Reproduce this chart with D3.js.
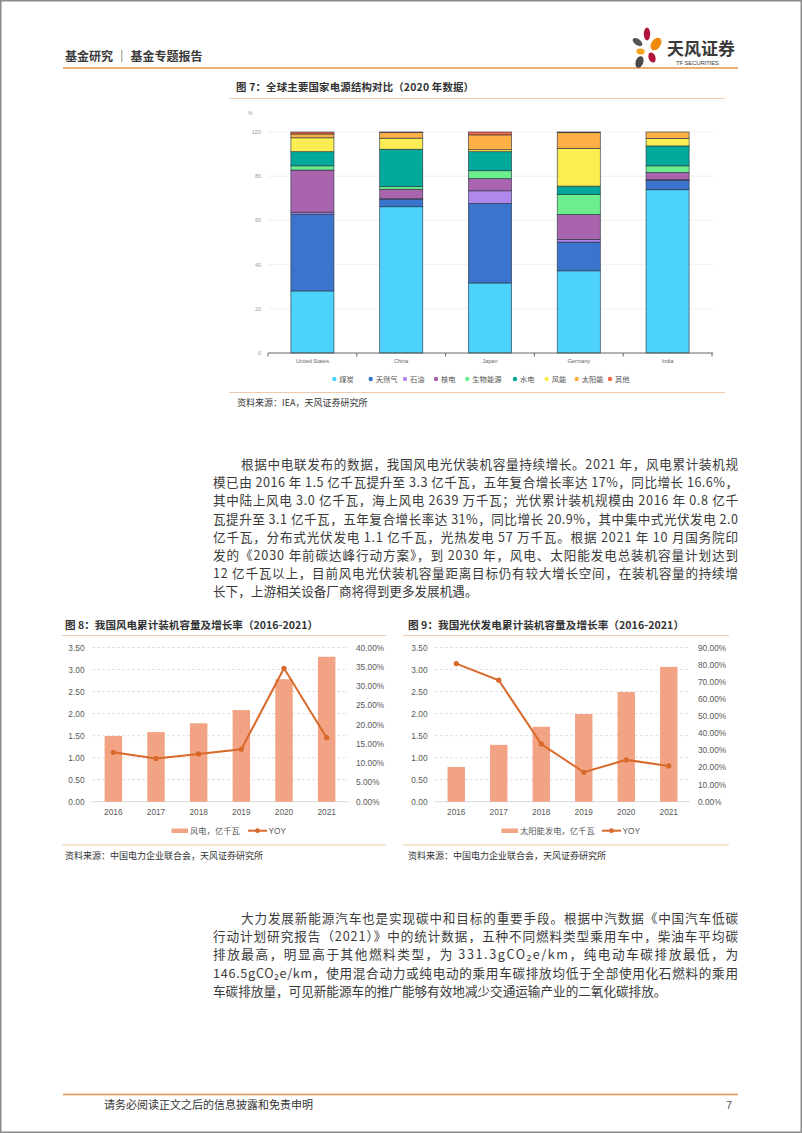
<!DOCTYPE html>
<html><head><meta charset="utf-8">
<script src="https://cdn.jsdelivr.net/npm/d3@7/dist/d3.min.js"></script>
<style>
html,body{margin:0;padding:0;background:#fff;}
svg{display:block;}
</style></head>
<body>
<svg id="page" width="802" height="1133"></svg>
<script>
// ---------- DATA ----------
const countries = ["United States","China","Japan","Germany","India"];
const sources = ["煤炭","天然气","石油","核电","生物能源","水电","风能","太阳能","其他"];
const coal    = [28.1, 66.2, 31.7, 37.2, 73.9];
const gas     = [34.7,  3.4, 36.0, 13.0,  4.2];
const oil     = [ 0.9,  0.2,  5.7,  1.2,  0.4];
const nuclear = [19.1,  4.3,  5.5, 11.3,  3.2];
const bio     = [ 1.9,  1.2,  3.6,  9.1,  3.0];
const hydro   = [ 6.4, 16.9,  8.6,  3.7,  9.0];
const wind    = [ 6.3,  5.0,  0.9, 17.1,  3.4];
const solar   = [ 1.7,  2.6,  6.7,  7.1,  2.9];
const other   = [ 0.9,  0.2,  1.3,  0.3,  0.0];
const pctTicks = [0,20,40,60,80,100];

const years = ["2016","2017","2018","2019","2020","2021"];
const windCap = [1.49,1.58,1.78,2.08,2.78,3.29];
const windYoy = [0.128,0.112,0.124,0.136,0.346,0.166];
const solarCap = [0.79,1.29,1.70,1.99,2.49,3.06];
const solarYoy = [0.806,0.709,0.337,0.172,0.244,0.209];
const capTicks = [0,0.5,1,1.5,2,2.5,3,3.5];
const windYoyTicks = [0,0.05,0.10,0.15,0.20,0.25,0.30,0.35,0.40];
const solarYoyTicks = [0,0.1,0.2,0.3,0.4,0.5,0.6,0.7,0.8,0.9];

const para1 = [
 "根据中电联发布的数据，我国风电光伏装机容量持续增长。2021 年，风电累计装机规",
 "模已由 2016 年 1.5 亿千瓦提升至 3.3 亿千瓦，五年复合增长率达 17%，同比增长 16.6%，",
 "其中陆上风电 3.0 亿千瓦，海上风电 2639 万千瓦；光伏累计装机规模由 2016 年 0.8 亿千",
 "瓦提升至 3.1 亿千瓦，五年复合增长率达 31%，同比增长 20.9%，其中集中式光伏发电 2.0",
 "亿千瓦，分布式光伏发电 1.1 亿千瓦，光热发电 57 万千瓦。根据 2021 年 10 月国务院印",
 "发的《2030 年前碳达峰行动方案》，到 2030 年，风电、太阳能发电总装机容量计划达到",
 "12 亿千瓦以上，目前风电光伏装机容量距离目标仍有较大增长空间，在装机容量的持续增",
 "长下，上游相关设备厂商将得到更多发展机遇。"
];
const para2 = [
 "大力发展新能源汽车也是实现碳中和目标的重要手段。根据中汽数据《中国汽车低碳",
 "行动计划研究报告（2021）》中的统计数据，五种不同燃料类型乘用车中，柴油车平均碳",
 "排放最高，明显高于其他燃料类型，为 331.3gCO₂e/km，纯电动车碳排放最低，为",
 "146.5gCO₂e/km，使用混合动力或纯电动的乘用车碳排放均低于全部使用化石燃料的乘用",
 "车碳排放量，可见新能源车的推广能够有效地减少交通运输产业的二氧化碳排放。"
];

// ---------- PAGE ----------
const CJK = "'Noto Sans CJK SC','Noto Sans',sans-serif";
const LAT = "'Liberation Sans','Noto Sans CJK SC',sans-serif";
const svg = d3.select("#page");
svg.append("rect").attr("x",0.75).attr("y",0.75).attr("width",800.5).attr("height",1131.5)
  .attr("fill","#fff").attr("stroke","#8a8a8a").attr("stroke-width",1.5);

// header
svg.append("text").attr("x",65).attr("y",61).text("基金研究 ｜ 基金专题报告")
  .attr("font-family",CJK).attr("font-size",12).attr("font-weight","bold").attr("fill","#3a3a3a");
svg.append("line").attr("x1",63).attr("x2",738).attr("y1",68).attr("y2",68)
  .attr("stroke","#e3954d").attr("stroke-width",1.6);
// logo
const logo = svg.append("g");
[[647,34,3.2,6.5,0,"#b3143c"],[656,44,4.6,7,35,"#ef8a0c"],[637.5,42,3.2,5.5,-55,"#555"],
 [640.5,51.5,4.2,3,10,"#f4a31e"],[652,57.5,3.4,5.2,-20,"#b3143c"],[639.5,62,3.8,6,20,"#4a4a4a"]]
 .forEach(p=>logo.append("ellipse").attr("cx",p[0]).attr("cy",p[1]).attr("rx",p[2]).attr("ry",p[3])
   .attr("transform",`rotate(${p[4]},${p[0]},${p[1]})`).attr("fill",p[5]));
svg.append("text").attr("x",667).attr("y",55).text("天风证券").attr("font-family",CJK)
  .attr("font-size",17).attr("font-weight","bold").attr("fill","#3a3a3a");
svg.append("text").attr("x",676).attr("y",65).text("TF SECURITIES").attr("font-family",LAT)
  .attr("font-size",6).attr("fill","#444").attr("textLength",43);

// ---------- FIG 7 ----------
svg.append("text").attr("x",236).attr("y",91).text("图 7：全球主要国家电源结构对比（2020 年数据）")
  .attr("font-family",CJK).attr("font-size",10.4).attr("font-weight","bold").attr("fill","#333")
  .attr("textLength",238).attr("lengthAdjust","spacing");
svg.append("line").attr("x1",229).attr("x2",725).attr("y1",98.5).attr("y2",98.5)
  .attr("stroke","#f0c9a8").attr("stroke-width",1);

const series = [coal,gas,oil,nuclear,bio,hydro,wind,solar,other];
const colors = ["#4dd2fb","#3b74cc","#b088ec","#a964ae","#6cee8f","#00a99a","#fcee52","#fdb045","#f2664a"];
const rows = countries.map((c,i)=>{const o={country:c}; sources.forEach((s,j)=>o[s]=series[j][i]); return o;});
const stack = d3.stack().keys(sources)(rows);
const x7 = d3.scaleBand().domain(countries).range([268,712]).paddingInner(0.515).paddingOuter(0.2575);
const y7 = d3.scaleLinear().domain([0,100]).range([353,132]);
const g7 = svg.append("g");
g7.selectAll(".grid").data(pctTicks.filter(d=>d>0)).join("line")
  .attr("x1",268).attr("x2",713).attr("y1",d=>y7(d)).attr("y2",d=>y7(d))
  .attr("stroke","#ececec").attr("stroke-width",0.8);
g7.selectAll(".yl").data(pctTicks).join("text").attr("x",261).attr("y",d=>y7(d)+2)
  .attr("text-anchor","end").text(d=>d).attr("font-family",LAT).attr("font-size",5.5).attr("fill","#999");
g7.append("text").attr("x",248).attr("y",115).text("%").attr("font-family",LAT).attr("font-size",5).attr("fill","#999");
stack.forEach((layer,k)=>{
  g7.selectAll(".s"+k).data(layer).join("rect")
    .attr("x",d=>x7(d.data.country)).attr("width",x7.bandwidth())
    .attr("y",d=>y7(d[1])).attr("height",d=>Math.max(0,y7(d[0])-y7(d[1])))
    .attr("fill",colors[k]).attr("stroke","rgba(35,45,60,0.75)").attr("stroke-width",0.8);
});
// x axis
const xa = g7.append("g").attr("transform","translate(0,353)");
xa.append("line").attr("x1",268).attr("x2",713).attr("stroke","#555").attr("stroke-width",0.9);
const bounds = d3.range(countries.length+1).map(i=>268+i*x7.step());
xa.selectAll(".tk").data(bounds).join("line").attr("x1",d=>d).attr("x2",d=>d).attr("y1",0).attr("y2",3.5)
  .attr("stroke","#555").attr("stroke-width",0.9);
xa.selectAll(".xl").data(countries).join("text").attr("x",d=>x7(d)+x7.bandwidth()/2).attr("y",10)
  .attr("text-anchor","middle").text(d=>d).attr("font-family",LAT).attr("font-size",5.5).attr("fill","#666");
// legend
const legX = [334.3,370.7,405,436,467.3,515,546.7,576.7,610];
sources.forEach((s,k)=>{
  g7.append("circle").attr("cx",legX[k]).attr("cy",379).attr("r",2.2).attr("fill",colors[k]);
  g7.append("text").attr("x",legX[k]+5).attr("y",381.5).text(s).attr("font-family",CJK)
    .attr("font-size",7.3).attr("fill","#555");
});
svg.append("line").attr("x1",229).attr("x2",725).attr("y1",392.5).attr("y2",392.5)
  .attr("stroke","#f0c9a8").attr("stroke-width",1);
svg.append("text").attr("x",237).attr("y",406).text("资料来源：IEA，天风证券研究所")
  .attr("font-family",CJK).attr("font-size",9).attr("fill","#333");

// ---------- PARAGRAPHS ----------
function paragraph(lines, y0){
  lines.forEach((t,i)=>{
    const x = i===0 ? 241 : 213;
    const tx = svg.append("text").attr("x",x).attr("y",y0+i*18.2).text(t)
      .attr("font-family",CJK).attr("font-size",12.6).attr("fill","#3a3a3a");
    if(i<lines.length-1) tx.attr("textLength",738-x).attr("lengthAdjust","spacing");
  });
}
paragraph(para1, 469);
paragraph(para2, 923);

// ---------- COMBO CHARTS ----------
function combo(o){
  svg.append("text").attr("x",o.tx).attr("y",629).text(o.title)
    .attr("font-family",CJK).attr("font-size",10.6).attr("font-weight","bold").attr("fill","#333")
    .attr("textLength",o.tLen).attr("lengthAdjust","spacing");
  svg.append("line").attr("x1",o.lx1).attr("x2",o.lx2).attr("y1",635.5).attr("y2",635.5)
    .attr("stroke","#f0c9a8").attr("stroke-width",1.2);
  const x = d3.scaleBand().domain(years).range([o.x0,o.x1]).paddingInner(0.59).paddingOuter(0.295);
  const yL = d3.scaleLinear().domain([0,3.5]).range([801.7,647.5]);
  const yR = d3.scaleLinear().domain([0,o.rMax]).range([801.7,647.5]);
  const g = svg.append("g");
  g.selectAll(".gr").data(capTicks.slice(1)).join("line").attr("x1",o.x0).attr("x2",o.x1)
    .attr("y1",d=>yL(d)).attr("y2",d=>yL(d)).attr("stroke","#d9d9d9").attr("stroke-width",0.8)
    .attr("stroke-dasharray","3,2");
  g.append("line").attr("x1",o.x0).attr("x2",o.x1).attr("y1",yL(0)).attr("y2",yL(0))
    .attr("stroke","#d9d9d9").attr("stroke-width",1);
  g.selectAll(".yl").data(capTicks).join("text").attr("x",o.x0-7.5).attr("y",d=>yL(d)+3)
    .attr("text-anchor","end").text(d=>d.toFixed(2)).attr("font-family",LAT).attr("font-size",8.3).attr("fill","#595959");
  g.selectAll(".yr").data(o.rTicks).join("text").attr("x",o.x1+8).attr("y",d=>yR(d)+3)
    .text(d=>(d*100).toFixed(2)+"%").attr("font-family",LAT).attr("font-size",8.3).attr("fill","#595959");
  g.selectAll(".bar").data(o.cap).join("rect").attr("x",(d,i)=>x(years[i])).attr("width",x.bandwidth())
    .attr("y",d=>yL(d)).attr("height",d=>yL(0)-yL(d)).attr("fill","#f2a384");
  const line = d3.line().x((d,i)=>x(years[i])+x.bandwidth()/2).y(d=>yR(d));
  g.append("path").attr("d",line(o.yoy)).attr("fill","none").attr("stroke","#d9692b").attr("stroke-width",2);
  g.selectAll(".pt").data(o.yoy).join("circle").attr("cx",(d,i)=>x(years[i])+x.bandwidth()/2)
    .attr("cy",d=>yR(d)).attr("r",2.6).attr("fill","#d9692b");
  g.selectAll(".xl").data(years).join("text").attr("x",d=>x(d)+x.bandwidth()/2).attr("y",815)
    .attr("text-anchor","middle").text(d=>d).attr("font-family",LAT).attr("font-size",8.3).attr("fill","#595959");
  // legend
  g.append("rect").attr("x",o.legX).attr("y",828.5).attr("width",16.5).attr("height",4.5).attr("fill","#f2a384");
  g.append("text").attr("x",o.legX+18.5).attr("y",833.5).text(o.legName)
    .attr("font-family",CJK).attr("font-size",8.3).attr("fill","#595959");
  g.append("line").attr("x1",o.legL).attr("x2",o.legL+19).attr("y1",830.7).attr("y2",830.7)
    .attr("stroke","#d9692b").attr("stroke-width",2);
  g.append("circle").attr("cx",o.legL+9.5).attr("cy",830.7).attr("r",2.4).attr("fill","#d9692b");
  g.append("text").attr("x",o.legL+20.5).attr("y",833.5).text("YOY")
    .attr("font-family",LAT).attr("font-size",8.3).attr("fill","#595959");
  svg.append("line").attr("x1",o.lx1).attr("x2",o.lx2).attr("y1",845).attr("y2",845)
    .attr("stroke","#f0c9a8").attr("stroke-width",1.2);
  svg.append("text").attr("x",o.tx).attr("y",859).text("资料来源：中国电力企业联合会，天风证券研究所")
    .attr("font-family",CJK).attr("font-size",9).attr("fill","#333");
}
combo({title:"图 8：我国风电累计装机容量及增长率（2016-2021）",tx:65,tLen:253,lx1:62,lx2:386,
  x0:92,x1:348,cap:windCap,yoy:windYoy,rMax:0.40,rTicks:windYoyTicks,
  legX:171.5,legName:"风电，亿千瓦",legL:248});
combo({title:"图 9：我国光伏发电累计装机容量及增长率（2016-2021）",tx:408,tLen:276,lx1:403,lx2:729,
  x0:435,x1:690,cap:solarCap,yoy:solarYoy,rMax:0.90,rTicks:solarYoyTicks,
  legX:501.5,legName:"太阳能发电，亿千瓦",legL:602});

// ---------- FOOTER ----------
svg.append("line").attr("x1",63).attr("x2",738).attr("y1",1094.5).attr("y2",1094.5)
  .attr("stroke","#e3954d").attr("stroke-width",1.6);
svg.append("text").attr("x",104).attr("y",1109).text("请务必阅读正文之后的信息披露和免责申明")
  .attr("font-family",CJK).attr("font-size",11).attr("fill","#333");
svg.append("text").attr("x",732).attr("y",1109).text("7").attr("text-anchor","end")
  .attr("font-family",LAT).attr("font-size",11).attr("fill","#555");
</script>
</body></html>
